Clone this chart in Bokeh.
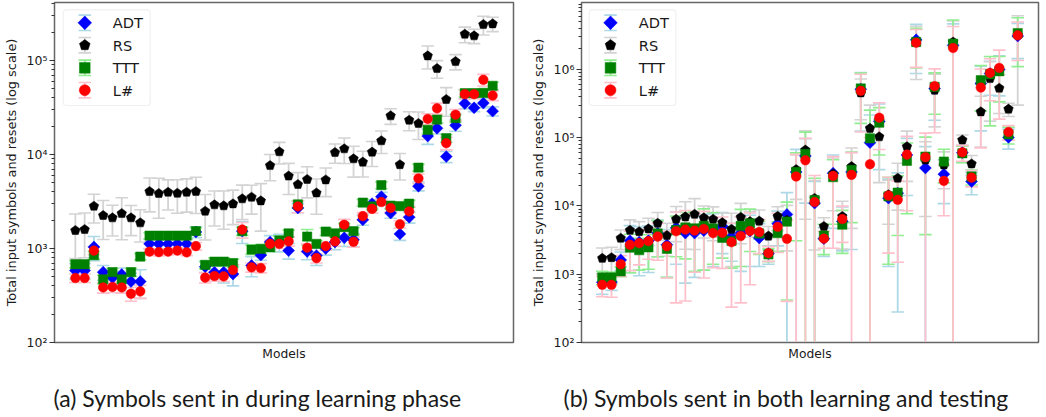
import numpy as np
from bokeh.plotting import figure
from bokeh.layouts import row
from bokeh.models import Range1d, LinearScale, BoxAnnotation, Label, FixedTicker, Title
from bokeh.embed import file_html
from bokeh.resources import INLINE

series_names = ["ADT", "RS", "TTT", "L#"]
models = list(range(46))

# Panel (a)
a_adt = [583,583,1040,560,490,530,445,445,1120,1120,1120,1120,1120,1500,640,560,560,535,1530,660,850,1170,1170,950,2700,930,840,1000,1170,1300,1240,2020,3000,3560,2380,1430,2150,4600,15700,19000,9500,20500,34900,31400,35200,28900]
a_adt_std = [110,110,300,100,85,90,100,150,130,130,120,130,130,200,85,90,130,135,400,160,100,200,250,180,300,170,180,150,200,250,200,250,300,400,280,210,290,500,2900,2500,1300,2800,4300,2800,4000,3200]
a_rs = [1555,1593,2820,2245,2120,2356,2120,1876,4040,3848,3970,3873,3970,4040,2495,2916,2845,2985,3381,3516,3214,7630,10700,5900,4800,5430,3900,5370,10500,11500,9000,8300,10600,14000,25800,7800,23200,21400,112000,82200,38500,97500,190600,183000,241500,245500]
a_rs_std = [775,795,950,1000,760,1115,750,705,1590,1750,1405,1505,1530,1685,1265,1180,1240,1190,1345,1195,1685,2375,2770,2145,1610,1975,1585,1805,2420,3470,3260,2535,3145,3765,4900,2440,5300,6950,30750,17550,13000,18100,36000,32000,54500,42500]
a_ttt = [680,680,850,470,560,470,560,820,1370,1370,1370,1370,1370,1530,670,725,725,700,1530,975,990,1030,1217,1450,2950,1340,1120,1515,1450,1690,1530,3080,2800,4720,2860,2820,3000,7250,18300,23500,14900,24400,44900,44900,45300,53800]
a_ttt_std = [60,60,80,50,55,45,55,60,100,100,100,100,100,130,60,70,70,70,150,110,110,100,140,120,250,250,90,140,120,150,130,250,200,400,230,220,250,600,1900,2000,1400,2200,4000,4200,4500,5000]
a_ls = [485,485,950,385,390,385,330,350,925,915,925,950,910,1060,490,510,505,590,1590,630,620,1120,1120,1190,2800,1020,790,1060,1190,1790,1180,2210,2640,3120,2700,1810,2480,5560,23900,31000,13200,26500,43800,43800,62300,42400]
a_ls_std = [50,50,90,50,50,50,55,55,75,80,70,75,70,100,60,60,60,80,300,70,70,100,120,130,400,100,90,100,130,250,150,200,260,250,260,170,300,650,3200,4200,2000,3600,4800,4500,8800,5000]

# Panel (b)
b_adt = [760,770,1620,3100,2950,3100,4000,2700,4800,4000,4000,4350,4500,5000,3550,4000,4300,3400,2000,5500,7500,31500,54000,11000,3320,30200,5950,31500,513000,84500,173000,13000,15400,55900,2720000,36000,525000,29200,2250000,60400,22800,621000,869000,993000,101000,3080000]
b_adt_std = [250,190,500,2050,2000,2040,2200,1800,3400,3260,3100,3200,3200,3000,2000,2900,3000,2100,600,2900,8150,36000,43000,11800,1500,25500,3750,29200,388000,130000,139000,11700,15120,41700,1850000,38000,345000,18400,2400000,17000,8200,495000,450000,583000,33000,1640000]
b_rs = [1710,1750,3370,4400,4200,4620,5570,3700,6400,6920,7550,6700,6400,5700,4550,6850,5900,6000,3620,7050,6200,34100,66000,12900,5020,29500,7030,37700,453000,137000,103000,14600,25500,73900,2500000,47000,496000,39900,2520000,92500,41300,239000,735000,531000,262000,3200000]
b_rs_std = [710,730,1080,1850,1700,2000,2430,1870,3400,4600,5250,3300,3300,2200,3250,4050,2400,2740,1380,2700,4000,21600,59600,10640,1700,21000,4700,33000,270000,163000,81000,9200,16800,51000,1790000,40000,352000,22000,2600000,17000,13400,166000,560000,305000,58000,2900000]
b_ttt = [900,900,1100,2450,2250,2480,3950,2350,4450,4850,4700,5100,4700,3420,3080,5100,5570,3950,1950,4000,5900,31500,57800,12200,3670,26400,5320,33700,525000,97900,165700,13800,15700,45700,2520000,52800,555000,44700,2380000,59000,27000,694000,849000,940000,112000,3400000]
b_ttt_std = [200,180,180,1400,1100,1300,2150,1450,2650,3170,3600,3950,3300,1700,1850,3800,3420,2000,420,1850,5480,28400,63000,13300,1730,21000,3300,28000,363000,155000,110000,12400,12000,38000,1470000,49000,335000,22900,2900000,16000,6700,449000,700000,605000,31000,2300000]
b_ls = [700,700,1400,2700,2850,3060,3560,2570,4270,4500,4360,4600,4000,4050,2950,3630,4300,4150,2040,4950,3300,27000,46600,11400,3320,27600,6430,28500,485000,40800,196000,14200,12300,56500,2460000,51700,568000,23300,2060000,61100,26000,542000,888000,1050000,121000,3150000]
b_ls_std = [230,240,475,1570,1480,1400,1960,1690,3890,4095,3290,3720,2750,2830,2620,3250,3600,2150,500,2870,2900,30000,51000,16500,920,25200,3500,32000,364000,60000,129000,12160,10800,48000,1390000,65000,450000,16100,2200000,16000,7000,471000,541000,863000,29000,1800000]

y_label = "Total input symbols and resets (log scale)"
x_label = "Models"
captions = ["(a) Symbols sent in during learning phase", "(b) Symbols sent in both learning and testing"]
tick_text = {100: "10²", 1000: "10³", 10000: "10⁴", 100000: "10⁵", 1000000: "10⁶"}

colors = {"ADT": "blue", "RS": "black", "TTT": "green", "L#": "red"}
err_colors = {"ADT": "lightblue", "RS": "lightgray", "TTT": "lightgreen", "L#": "pink"}
PENT = np.deg2rad(np.arange(5) * 72.0)


def draw_marker(p, name, x, y, k=1.0, **kw):
    c = colors[name]
    if name == "ADT":
        p.scatter(x, y, marker="square", angle=np.pi / 4, size=8.4 * k, fill_color=c, line_color=c, line_width=0.5, **kw)
    elif name == "TTT":
        p.scatter(x, y, marker="square", size=9.3 * k, fill_color=c, line_color=c, line_width=0.5, **kw)
    elif name == "L#":
        p.scatter(x, y, marker="circle", size=9.6 * k, fill_color=c, line_color=c, line_width=0.5, **kw)


def panel(page_x0, width, left, right, y_top, means, stds, caption, cap_offset, legend_box, legend_xs):
    f_w = width - left - right
    p = figure(width=width, height=417, x_range=Range1d(-2.25, 47.25), y_range=Range1d(100, y_top),
               y_axis_type="log", output_backend="svg", toolbar_location=None,
               min_border_left=left, min_border_right=right, min_border_top=2, min_border_bottom=75,
               background_fill_color="white", border_fill_color="white")
    p.extra_x_ranges = {"px": Range1d(page_x0 + left, page_x0 + left + f_w)}
    p.extra_x_scales = {"px": LinearScale()}
    p.extra_y_ranges = {"px": Range1d(342, 2)}
    p.extra_y_scales = {"px": LinearScale()}
    p.grid.visible = False
    p.outline_line_color = "#666666"
    p.outline_line_width = 1.5

    yax = p.yaxis[0]
    yax.axis_label = y_label
    yax.axis_label_text_font = "DejaVu Sans"
    yax.axis_label_text_font_style = "normal"
    yax.axis_label_text_font_size = "12.9px"
    yax.axis_label_text_color = "#1a1a1a"
    yax.axis_label_standoff = 5
    yax.major_label_overrides = tick_text
    yax.major_label_text_font = "DejaVu Sans"
    yax.major_label_text_font_size = "12.5px"
    yax.major_label_text_color = "#1a1a1a"
    yax.major_label_standoff = 2
    yax.axis_line_color = "#666666"
    yax.major_tick_line_color = "#333333"
    yax.minor_tick_line_color = "#333333"
    yax.major_tick_in = 0
    yax.major_tick_out = 5
    yax.minor_tick_in = 0
    yax.minor_tick_out = 3

    xax = p.xaxis[0]
    xax.ticker = FixedTicker(ticks=[])
    xax.axis_label = x_label
    xax.axis_label_text_font = "DejaVu Sans"
    xax.axis_label_text_font_style = "normal"
    xax.axis_label_text_font_size = "12.3px"
    xax.axis_label_text_color = "#1a1a1a"
    xax.axis_label_standoff = 4
    xax.axis_line_color = "#666666"
    xax.major_tick_line_color = None
    xax.minor_tick_line_color = None
    xax.major_label_text_color = None

    ppx = f_w / 49.5
    ppy = 340.0 / np.log10(y_top / 100.0)
    x = np.array(models, dtype=float)
    # all error bars first, markers above them
    for name, mean, std in zip(series_names, means, stds):
        m = np.array(mean, dtype=float)
        s = np.array(std, dtype=float)
        hi = m + s
        lo = np.where(m - s > 0, m - s, 1.0)
        ec = err_colors[name]
        p.segment(x, lo, x, hi, line_color=ec, line_width=1.8)
        p.scatter(x, hi, marker="dash", size=12.5, line_color=ec, line_width=1.6)
        p.scatter(x, lo, marker="dash", size=12.5, line_color=ec, line_width=1.6)
    for name, mean in zip(series_names, means):
        m = np.array(mean, dtype=float)
        if name == "RS":
            xs = [list(xi + 5.0 * np.sin(PENT) / ppx) for xi in x]
            ys = [list(mi * 10 ** (5.0 * np.cos(PENT) / ppy)) for mi in m]
            p.patches(xs, ys, fill_color="black", line_color="black", line_width=0.5)
        else:
            draw_marker(p, name, x, m)

    # legend, in page pixel coordinates
    bl, br, bt, bb = legend_box
    kw = dict(x_range_name="px", y_range_name="px")
    p.add_layout(BoxAnnotation(left=bl, right=br, top=bt, bottom=bb,
                               fill_color="white", fill_alpha=0.8, line_color="#cccccc", line_width=1.2,
                               border_radius=3, level="underlay", **kw))
    mx, tx = legend_xs
    for name, ly in zip(series_names, [22.3, 44.7, 67.3, 89.7]):
        ec = err_colors[name]
        p.segment([mx], [ly - 7.7], [mx], [ly + 7.7], line_color=ec, line_width=1.8, **kw)
        p.scatter([mx, mx], [ly - 7.7, ly + 7.7], marker="dash", size=12.5, line_color=ec, line_width=1.6, **kw)
        if name == "RS":
            p.patches([list(mx + 5.6 * np.sin(PENT))], [list(ly - 5.6 * np.cos(PENT))],
                      fill_color="black", line_color="black", line_width=0.5, **kw)
        else:
            draw_marker(p, name, [mx], [ly], k=1.15, **kw)
        p.add_layout(Label(x=tx, y=ly, text=name, text_font="DejaVu Sans", text_font_size="14.6px",
                           text_color="#1a1a1a", text_baseline="middle", **kw))
    p.add_layout(Title(text="\u00a0", text_font_size="14px", standoff=0), "below")
    p.add_layout(Title(text=caption, align="left", text_font="Lato", text_font_size="23px",
                       text_font_style="normal", text_color="#1a1a1a", standoff=0, offset=cap_offset), "below")
    return p


p1 = panel(0, 520, 54, 7, 10 ** 5.617, [a_adt, a_rs, a_ttt, a_ls], [a_adt_std, a_rs_std, a_ttt_std, a_ls_std],
           captions[0], -1, (62.7, 149.7, 9.3, 105), (84.3, 112.3))
p2 = panel(520, 520, 61, 2, 10 ** 6.98, [b_adt, b_rs, b_ttt, b_ls], [b_adt_std, b_rs_std, b_ttt_std, b_ls_std],
           captions[1], -18, (588.7, 675.3, 9.3, 105), (610, 638.3))

page = row(p1, p2, spacing=0)
open("out.html", "w").write(file_html(page, INLINE))
